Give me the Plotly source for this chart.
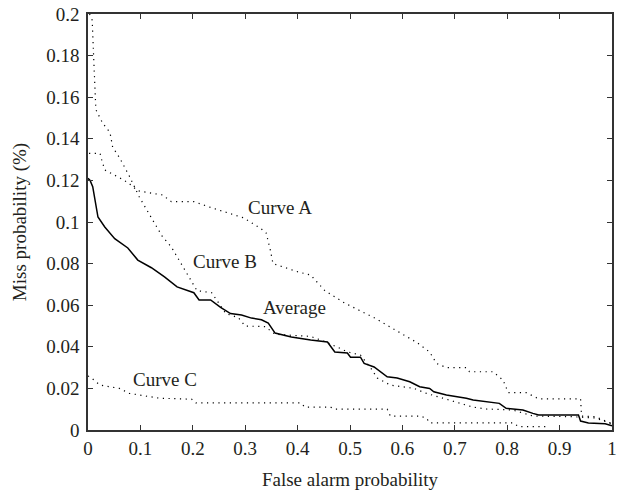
import plotly.graph_objects as go

# Curve A (dotted)
curve_a_x = [0.002, 0.023, 0.026, 0.032, 0.057, 0.076, 0.095, 0.121, 0.142, 0.159, 0.202, 0.234, 0.259,
             0.297, 0.329, 0.34, 0.348, 0.353, 0.401, 0.425, 0.452, 0.49, 0.546, 0.628, 0.652, 0.665,
             0.684, 0.722, 0.728, 0.773, 0.792, 0.802, 0.836, 0.86, 0.94, 0.942, 0.968, 0.992, 1.0]
curve_a_y = [0.133, 0.133, 0.130, 0.125, 0.1217, 0.119, 0.115, 0.114, 0.113, 0.1098, 0.1098, 0.107, 0.105,
             0.102, 0.097, 0.0947, 0.0865, 0.080, 0.076, 0.0745, 0.067, 0.061, 0.054, 0.042, 0.0375, 0.032,
             0.030, 0.030, 0.028, 0.028, 0.024, 0.018, 0.018, 0.015, 0.015, 0.0067, 0.0064, 0.004, 0.003]

# Curve B (dotted)
curve_b_x = [0.003, 0.008, 0.011, 0.015, 0.028, 0.042, 0.047, 0.06, 0.079, 0.098, 0.121, 0.142, 0.159,
             0.183, 0.208, 0.236, 0.246, 0.263, 0.287, 0.30, 0.338, 0.357, 0.425, 0.457, 0.495, 0.52,
             0.539, 0.552, 0.577, 0.622, 0.646, 0.698, 0.735, 0.76, 0.811, 0.849, 0.924, 0.968, 1.0]
curve_b_y = [0.2, 0.197, 0.178, 0.154, 0.1475, 0.143, 0.136, 0.131, 0.122, 0.112, 0.102, 0.093, 0.088,
             0.078, 0.067, 0.066, 0.0625, 0.056, 0.054, 0.050, 0.0497, 0.046, 0.045, 0.042, 0.0376, 0.036,
             0.030, 0.025, 0.0216, 0.020, 0.0176, 0.0136, 0.011, 0.0101, 0.0096, 0.0067, 0.0064, 0.0058, 0.003]

# Curve C (dotted)
curve_c_x = [0.0, 0.004, 0.023, 0.06, 0.079, 0.098, 0.136, 0.198, 0.206, 0.406, 0.414, 0.463, 0.471,
             0.571, 0.577, 0.633, 0.646, 0.652, 0.811, 0.822, 0.873]
curve_c_y = [0.026, 0.0255, 0.0216, 0.020, 0.0176, 0.0168, 0.0153, 0.0148, 0.013, 0.013, 0.011, 0.011, 0.010,
             0.010, 0.0067, 0.0067, 0.0057, 0.0034, 0.0034, 0.0016, 0.0016]

# Average (solid)
avg_x = [0.0, 0.004, 0.009, 0.015, 0.019, 0.032, 0.051, 0.076, 0.095, 0.121, 0.146, 0.17, 0.202, 0.212,
         0.234, 0.253, 0.272, 0.293, 0.312, 0.331, 0.344, 0.357, 0.388, 0.425, 0.457, 0.471, 0.495, 0.501,
         0.52, 0.527, 0.546, 0.571, 0.59, 0.614, 0.633, 0.652, 0.66, 0.684, 0.722, 0.735, 0.785, 0.798,
         0.83, 0.849, 0.86, 0.936, 0.94, 0.955, 0.987, 1.0]
avg_y = [0.121, 0.12, 0.117, 0.108, 0.1024, 0.0976, 0.092, 0.0875, 0.0817, 0.078, 0.0736, 0.0688, 0.066,
         0.0625, 0.0625, 0.059, 0.056, 0.0553, 0.0538, 0.053, 0.0514, 0.0466, 0.0447, 0.0433, 0.0423, 0.0375,
         0.037, 0.035, 0.035, 0.032, 0.0303, 0.0256, 0.025, 0.0232, 0.0208, 0.020, 0.0184, 0.0168, 0.0153,
         0.0144, 0.0128, 0.0104, 0.0096, 0.008, 0.0072, 0.0072, 0.0043, 0.0034, 0.003, 0.002]

labels = ["Curve A", "Curve B", "Average", "Curve C"]
label_x = [0.367, 0.261, 0.395, 0.146]
label_y = [0.107, 0.081, 0.059, 0.0245]

x_ticks = [0, 0.1, 0.2, 0.3, 0.4, 0.5, 0.6, 0.7, 0.8, 0.9, 1]
x_tick_text = ["0", "0.1", "0.2", "0.3", "0.4", "0.5", "0.6", "0.7", "0.8", "0.9", "1"]
y_ticks = [0, 0.02, 0.04, 0.06, 0.08, 0.1, 0.12, 0.14, 0.16, 0.18, 0.2]
y_tick_text = ["0", "0.02", "0.04", "0.06", "0.08", "0.1", "0.12", "0.14", "0.16", "0.18", "0.2"]

FONT = "Liberation Serif, Times New Roman, serif"
TXT = "#231f20"
FS = 19
dotted = dict(color="black", width=1.2, dash="1.2px,4.5px")

fig = go.Figure()
fig.add_trace(go.Scatter(x=curve_a_x, y=curve_a_y, mode="lines", line=dotted, name="Curve A"))
fig.add_trace(go.Scatter(x=curve_b_x, y=curve_b_y, mode="lines", line=dotted, name="Curve B"))
fig.add_trace(go.Scatter(x=curve_c_x, y=curve_c_y, mode="lines", line=dotted, name="Curve C"))
fig.add_trace(go.Scatter(x=avg_x, y=avg_y, mode="lines", line=dict(color="black", width=1.5), name="Average"))

for t, lx, ly in zip(labels, label_x, label_y):
    fig.add_annotation(x=lx, y=ly, text=t, showarrow=False,
                       font=dict(family=FONT, size=FS, color=TXT))

axis_common = dict(showgrid=False, zeroline=False, showline=True, linecolor="#333", linewidth=1.5,
                   mirror="ticks", ticks="inside", ticklen=5, tickwidth=1, tickcolor="#333",
                   automargin=False, ticklabeloverflow="allow",
                   tickfont=dict(family=FONT, size=FS, color=TXT))

fig.update_layout(
    width=618, height=493,
    margin=dict(l=88, r=6, t=14, b=63),
    paper_bgcolor="white", plot_bgcolor="white",
    showlegend=False,
    xaxis=dict(range=[0, 1], tickvals=x_ticks, ticktext=x_tick_text, ticklabelstandoff=0,
               title=dict(text="False alarm probability", font=dict(family=FONT, size=FS, color=TXT)),
               **axis_common),
    yaxis=dict(range=[0, 0.2], tickvals=y_ticks, ticktext=y_tick_text, ticklabelstandoff=3,
               title=dict(text="Miss probability (%)", font=dict(family=FONT, size=FS, color=TXT)),
               **axis_common),
)

# Remove the browser's default body margin so the 618x493 figure fills the window exactly.
fig.write_html("out.html", config={"displayModeBar": False},
               post_script="document.body.style.margin='0';document.body.style.overflow='hidden';")
